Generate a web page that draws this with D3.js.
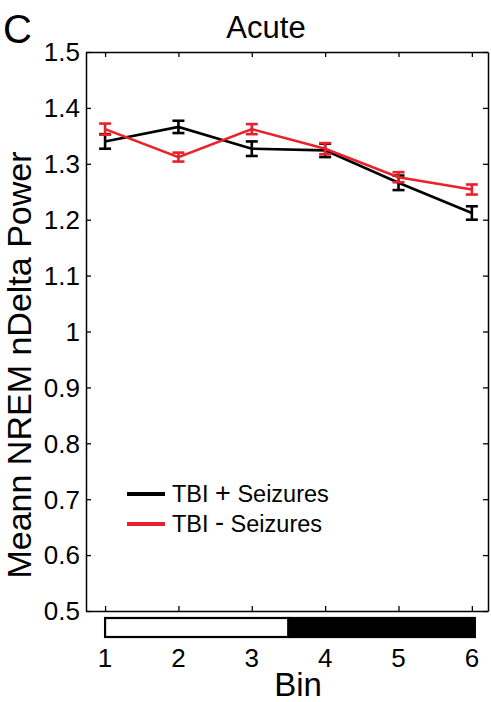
<!DOCTYPE html>
<html>
<head>
<meta charset="utf-8">
<script src="https://cdn.jsdelivr.net/npm/d3@7"></script>
<style>
	body { margin: 0; background: white; }
	svg { display: block; font-family: 'Liberation Sans', Arial, sans-serif; }
</style>
</head>
<body>
<svg id="chart"></svg>
<script>
const bins = [1, 2, 3, 4, 5, 6];
const tbiPlus = [1.34, 1.366, 1.327, 1.324, 1.266, 1.212];
const tbiPlusErr = [0.013, 0.011, 0.013, 0.012, 0.013, 0.012];
const tbiMinus = [1.362, 1.312, 1.362, 1.327, 1.276, 1.254];
const tbiMinusErr = [0.01, 0.008, 0.009, 0.01, 0.009, 0.009];
const yTicks = [0.5, 0.6, 0.7, 0.8, 0.9, 1, 1.1, 1.2, 1.3, 1.4, 1.5];
const seriesNames = ['TBI + Seizures', 'TBI - Seizures'];
const lightPhase = [1, 3.5];
const darkPhase = [3.5, 6];

const width = 491;
const height = 702;
const marginLeft = 86;
const marginRight = 3;
const marginTop = 52;
const marginBottom = 91;

const series = [
	{ name: seriesNames[0], sign: '+', color: '#000000', values: tbiPlus, errs: tbiPlusErr },
	{ name: seriesNames[1], sign: '-', color: '#e8212a', values: tbiMinus, errs: tbiMinusErr },
];

const x = d3.scaleLinear().domain([0.74, 6.22]).range([marginLeft, width - marginRight]);
const y = d3.scaleLinear().domain([0.5, 1.5]).range([height - marginBottom, marginTop]);

const svg = d3.select('#chart').attr('width', width).attr('height', height);

// panel letter and title
svg.append('text').attr('x', 3).attr('y', 43).attr('font-size', 40).text('C');
svg
	.append('text')
	.attr('x', 266)
	.attr('y', 38)
	.attr('text-anchor', 'middle')
	.attr('font-size', 31)
	.text('Acute');

// axes box with inward ticks on all sides
const tickLen = 5;
const fmt = (d) => (d === 1 ? '1' : d3.format('.1f')(d));

const axLeft = svg
	.append('g')
	.attr('transform', `translate(${marginLeft},0)`)
	.call(d3.axisRight(y).tickValues(yTicks).tickSize(tickLen).tickSizeOuter(0).tickFormat(''));
const axRight = svg
	.append('g')
	.attr('transform', `translate(${width - marginRight},0)`)
	.call(d3.axisLeft(y).tickValues(yTicks).tickSize(tickLen).tickSizeOuter(0).tickFormat(''));
const axTop = svg
	.append('g')
	.attr('transform', `translate(0,${marginTop})`)
	.call(d3.axisBottom(x).tickValues(bins).tickSize(tickLen).tickSizeOuter(0).tickFormat(''));
const axBottom = svg
	.append('g')
	.attr('transform', `translate(0,${height - marginBottom})`)
	.call(d3.axisTop(x).tickValues(bins).tickSize(tickLen).tickSizeOuter(0).tickFormat(''));

[axLeft, axRight, axTop, axBottom].forEach((g) => {
	g.select('.domain').attr('stroke', '#000').attr('stroke-width', 1.5);
	g.selectAll('.tick line').attr('stroke', '#000').attr('stroke-width', 1.3);
});

// y tick labels
svg
	.append('g')
	.selectAll('text')
	.data(yTicks)
	.join('text')
	.attr('x', marginLeft - 6)
	.attr('y', (d) => y(d))
	.attr('dy', '0.36em')
	.attr('text-anchor', 'end')
	.attr('font-size', 26)
	.text(fmt);

// light / dark bar under the axis
const barTop = 618;
const barH = 19;
svg
	.append('rect')
	.attr('x', x(lightPhase[0]))
	.attr('y', barTop)
	.attr('width', x(lightPhase[1]) - x(lightPhase[0]))
	.attr('height', barH)
	.attr('fill', 'white')
	.attr('stroke', '#000')
	.attr('stroke-width', 2.2);
svg
	.append('rect')
	.attr('x', x(darkPhase[0]))
	.attr('y', barTop)
	.attr('width', x(darkPhase[1]) - x(darkPhase[0]) + 3)
	.attr('height', barH)
	.attr('fill', '#000')
	.attr('stroke', '#000')
	.attr('stroke-width', 2.2);

// x tick labels and axis title
svg
	.append('g')
	.selectAll('text')
	.data(bins)
	.join('text')
	.attr('x', (d) => x(d))
	.attr('y', 667)
	.attr('text-anchor', 'middle')
	.attr('font-size', 26)
	.text((d) => d);

svg
	.append('text')
	.attr('x', 298)
	.attr('y', 696)
	.attr('text-anchor', 'middle')
	.attr('font-size', 33)
	.text('Bin');

svg
	.append('text')
	.attr('transform', `translate(31,365) rotate(-90)`)
	.attr('text-anchor', 'middle')
	.attr('font-size', 34)
	.text('Meann NREM nDelta Power');

// lines with error bars
const line = d3
	.line()
	.x((d, i) => x(bins[i]))
	.y((d) => y(d));

const capW = 6;
series.forEach((s) => {
	const g = svg.append('g');
	g.append('path')
		.attr('d', line(s.values))
		.attr('fill', 'none')
		.attr('stroke', s.color)
		.attr('stroke-width', 2.6);

	const eb = g
		.selectAll('g.err')
		.data(s.values.map((v, i) => ({ bin: bins[i], v, e: s.errs[i] })))
		.join('g')
		.attr('class', 'err')
		.attr('stroke', s.color)
		.attr('stroke-width', 2.6);
	eb.append('line')
		.attr('x1', (d) => x(d.bin))
		.attr('x2', (d) => x(d.bin))
		.attr('y1', (d) => y(d.v - d.e))
		.attr('y2', (d) => y(d.v + d.e));
	eb.append('line')
		.attr('x1', (d) => x(d.bin) - capW)
		.attr('x2', (d) => x(d.bin) + capW)
		.attr('y1', (d) => y(d.v - d.e))
		.attr('y2', (d) => y(d.v - d.e));
	eb.append('line')
		.attr('x1', (d) => x(d.bin) - capW)
		.attr('x2', (d) => x(d.bin) + capW)
		.attr('y1', (d) => y(d.v + d.e))
		.attr('y2', (d) => y(d.v + d.e));
});

// legend
const legend = svg
	.append('g')
	.selectAll('g')
	.data(series)
	.join('g')
	.attr('transform', (d, i) => `translate(127,${494 + i * 30})`);

legend
	.append('line')
	.attr('x1', 0)
	.attr('x2', 38)
	.attr('stroke', (d) => d.color)
	.attr('stroke-width', 4);

const lt = legend.append('text').attr('x', 45).attr('dy', '0.36em').attr('font-size', 23.5);
lt.append('tspan').text('TBI ');
lt.append('tspan')
	.attr('font-size', 27)
	.attr('dy', (d) => (d.sign === '+' ? '0' : '-0.05em'))
	.text((d) => d.sign);
lt.append('tspan').attr('dy', (d) => (d.sign === '+' ? '0' : '0.05em')).text(' Seizures');
</script>
</body>
</html>
